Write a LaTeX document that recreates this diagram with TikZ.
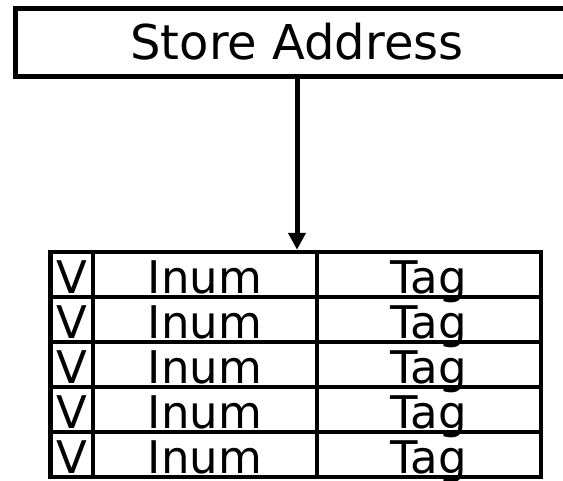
\documentclass[tikz,border=0pt]{standalone}
\usepackage{fontspec}
\setmainfont{DejaVu Sans}
\usetikzlibrary{arrows.meta}
\tikzset{
  x=1pt, y=-1pt,
  titlebox/.style={draw, line width=5pt, inner sep=0pt, minimum width=564pt, minimum height=68pt,
    font=\fontsize{48}{52}\selectfont},
  cell/.style={draw, line width=4.5pt, inner sep=0pt, minimum height=45pt, text height=41pt, text depth=4pt,
    font=\fontsize{45}{50}\selectfont},
  vcell/.style={cell, minimum width=42.5pt},
  wcell/.style={cell, minimum width=224pt},
  arr/.style={line width=5pt, -{Triangle[width=17pt,length=17pt]}}
}
\begin{document}
\begin{tikzpicture}
\useasboundingbox (0,0) rectangle (563,480);
\clip (0,0) rectangle (563,480);
\node[titlebox] (store) at (297,42) {Store Address};
\foreach \i in {1,...,5}{
  \pgfmathsetmacro{\yc}{252+45*(\i-1)+22.5}
  \node[vcell] (v\i) at (71.75,\yc) {V};
  \node[wcell] (inum\i) at (205,\yc) {Inum};
  \node[wcell] (tag\i) at (429,\yc) {Tag};
}
\draw[arr] (store.south) -- (store.south |- inum1.north);
\end{tikzpicture}
\end{document}
